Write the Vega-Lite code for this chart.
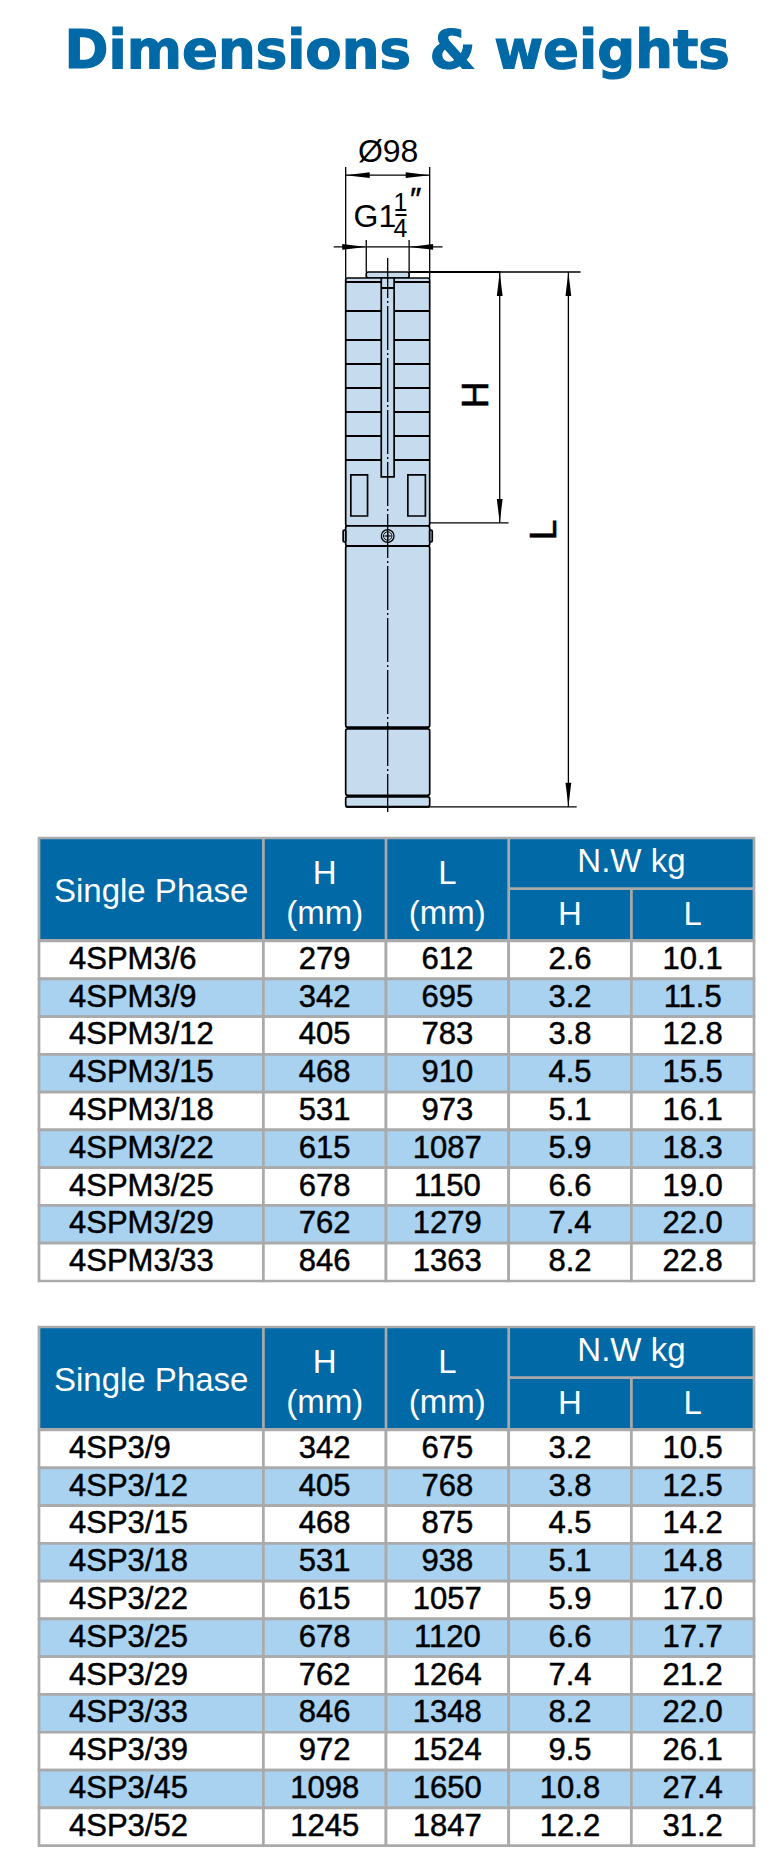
{
  "$schema": "https://vega.github.io/schema/vega-lite/v6.json",
  "background": "white",
  "padding": {"left": 37, "top": 26, "right": 0, "bottom": 0},
  "config": {
    "view": {"stroke": null},
    "font": "Liberation Sans"
  },
  "title": {
    "text": "Dimensions & weights",
    "font": "DejaVu Sans",
    "fontWeight": "bold",
    "fontSize": 53,
    "color": "#0069a6",
    "anchor": "middle",
    "dx": 0,
    "offset": 21,
    "encode": {"title": {"update": {"stroke": {"value": "#0069a6"}, "strokeWidth": {"value": 1.2}}}}
  },
  "datasets": {
    "parts": [
      {"part": "outlet", "x": -25, "x2": 25, "y": 0, "y2": 7},
      {"part": "stages", "x": -49, "x2": 49, "y": 7, "y2": 296.3},
      {"part": "band", "x": -49, "x2": 49, "y": 296.3, "y2": 319.7},
      {"part": "lug", "x": -52, "x2": -49, "y": 301, "y2": 315},
      {"part": "lug", "x": 49, "x2": 52, "y": 301, "y2": 315},
      {"part": "motor", "x": -49, "x2": 49, "y": 319.7, "y2": 531},
      {"part": "motor", "x": -49, "x2": 49, "y": 533, "y2": 610.6},
      {"part": "motor", "x": -49, "x2": 49, "y": 612.4, "y2": 624}
    ],
    "squareParts": [
      {"part": "slot", "x": -7.5, "x2": 7.5, "y": 7, "y2": 239},
      {"part": "window", "x": -43, "x2": -23.5, "y": 236.8, "y2": 284.7},
      {"part": "window", "x": 23.5, "x2": 44, "y": 236.8, "y2": 284.7}
    ],
    "heavyLines": [
      {"x": -49, "x2": -7.5, "y": 11.7, "y2": 11.7},
      {"x": 7.5, "x2": 49, "y": 11.7, "y2": 11.7},
      {"x": -7.5, "x2": 7.5, "y": 18.7, "y2": 18.7},
      {"x": -49, "x2": -7.5, "y": 45.5, "y2": 45.5},
      {"x": 7.5, "x2": 49, "y": 45.5, "y2": 45.5},
      {"x": -49, "x2": -7.5, "y": 79.3, "y2": 79.3},
      {"x": 7.5, "x2": 49, "y": 79.3, "y2": 79.3},
      {"x": -49, "x2": -7.5, "y": 107.3, "y2": 107.3},
      {"x": 7.5, "x2": 49, "y": 107.3, "y2": 107.3},
      {"x": -49, "x2": -7.5, "y": 135.3, "y2": 135.3},
      {"x": 7.5, "x2": 49, "y": 135.3, "y2": 135.3},
      {"x": -49, "x2": -7.5, "y": 163.3, "y2": 163.3},
      {"x": 7.5, "x2": 49, "y": 163.3, "y2": 163.3},
      {"x": -49, "x2": -7.5, "y": 191.3, "y2": 191.3},
      {"x": 7.5, "x2": 49, "y": 191.3, "y2": 191.3},
      {"x": -49, "x2": -7.5, "y": 219.3, "y2": 219.3},
      {"x": 7.5, "x2": 49, "y": 219.3, "y2": 219.3},
      {"x": -49, "x2": 49, "y": 319.7, "y2": 319.7},
      {"x": -49, "x2": 49, "y": 624, "y2": 624},
      {"x": 25, "x2": 132, "y": 0, "y2": 0},
      {"x": 9, "x2": 22, "y": -66.5, "y2": -66.5}
    ],
    "thinLines": [
      {"x": -49, "x2": -49, "y": -122.5, "y2": 7},
      {"x": 49, "x2": 49, "y": -122.5, "y2": 7},
      {"x": -25, "x2": -25, "y": -37.3, "y2": 0},
      {"x": 25, "x2": 25, "y": -37.3, "y2": 0},
      {"x": -49, "x2": 49, "y": -113, "y2": -113},
      {"x": -63, "x2": 64, "y": -29.2, "y2": -29.2},
      {"x": 132, "x2": 225, "y": 0, "y2": 0},
      {"x": 49, "x2": 141, "y": 292.8, "y2": 292.8},
      {"x": 49, "x2": 220.5, "y": 624, "y2": 624},
      {"x": 130.7, "x2": 130.7, "y": 0, "y2": 292.8},
      {"x": 210.8, "x2": 210.8, "y": 0, "y2": 624},
      {"x": -3.5, "x2": 3.5, "y": 308, "y2": 308},
      {"x": 0, "x2": 0, "y": 304.5, "y2": 311.5}
    ],
    "arrows": [
      {"x": -49, "y": -113, "angle": 270},
      {"x": 49, "y": -113, "angle": 90},
      {"x": -25, "y": -29.2, "angle": 90},
      {"x": 25, "y": -29.2, "angle": 270},
      {"x": 130.7, "y": 0, "angle": 0},
      {"x": 130.7, "y": 292.8, "angle": 180},
      {"x": 210.8, "y": 0, "angle": 0},
      {"x": 210.8, "y": 624, "angle": 180}
    ],
    "labels": [
      {"label": "Ø98", "x": 0.5, "y": -140},
      {"label": "G1", "x": -15, "y": -64}
    ],
    "fractionLabels": [
      {"label": "1", "x": 15, "y": -81},
      {"label": "4", "x": 15, "y": -50}
    ],
    "dimensionLabels": [
      {"label": "H", "x": 104, "y": 143.5},
      {"label": "L", "x": 184, "y": 301}
    ],
    "columns": [
      {"col": "model", "left": 0, "right": 224.4, "center": 112.2},
      {"col": "H", "left": 224.4, "right": 347, "center": 285.7},
      {"col": "L", "left": 347, "right": 469.7, "center": 408.3},
      {"col": "nwH", "left": 469.7, "right": 592.4, "center": 531},
      {"col": "nwL", "left": 592.4, "right": 715, "center": 653.7}
    ],
    "headerLines": [
      {"x": 224.4, "x2": 224.4, "y": 0, "y2": 102.3},
      {"x": 347, "x2": 347, "y": 0, "y2": 102.3},
      {"x": 469.7, "x2": 469.7, "y": 0, "y2": 102.3},
      {"x": 592.4, "x2": 592.4, "y": 50.6, "y2": 102.3},
      {"x": 469.7, "x2": 715, "y": 50.6, "y2": 50.6}
    ],
    "headerCells": [
      {"label": "Single Phase", "x": 112.2, "y": 53.5},
      {"label": "H", "x": 285.7, "y": 35.6},
      {"label": "(mm)", "x": 285.7, "y": 75.6},
      {"label": "L", "x": 408.3, "y": 35.6},
      {"label": "(mm)", "x": 408.3, "y": 75.6},
      {"label": "N.W kg", "x": 592.4, "y": 24},
      {"label": "H", "x": 531, "y": 77},
      {"label": "L", "x": 653.7, "y": 77}
    ],
    "table1": [
      {"model": "4SPM3/6", "H": "279", "L": "612", "nwH": "2.6", "nwL": "10.1"},
      {"model": "4SPM3/9", "H": "342", "L": "695", "nwH": "3.2", "nwL": "11.5"},
      {"model": "4SPM3/12", "H": "405", "L": "783", "nwH": "3.8", "nwL": "12.8"},
      {"model": "4SPM3/15", "H": "468", "L": "910", "nwH": "4.5", "nwL": "15.5"},
      {"model": "4SPM3/18", "H": "531", "L": "973", "nwH": "5.1", "nwL": "16.1"},
      {"model": "4SPM3/22", "H": "615", "L": "1087", "nwH": "5.9", "nwL": "18.3"},
      {"model": "4SPM3/25", "H": "678", "L": "1150", "nwH": "6.6", "nwL": "19.0"},
      {"model": "4SPM3/29", "H": "762", "L": "1279", "nwH": "7.4", "nwL": "22.0"},
      {"model": "4SPM3/33", "H": "846", "L": "1363", "nwH": "8.2", "nwL": "22.8"}
    ],
    "table2": [
      {"model": "4SP3/9", "H": "342", "L": "675", "nwH": "3.2", "nwL": "10.5"},
      {"model": "4SP3/12", "H": "405", "L": "768", "nwH": "3.8", "nwL": "12.5"},
      {"model": "4SP3/15", "H": "468", "L": "875", "nwH": "4.5", "nwL": "14.2"},
      {"model": "4SP3/18", "H": "531", "L": "938", "nwH": "5.1", "nwL": "14.8"},
      {"model": "4SP3/22", "H": "615", "L": "1057", "nwH": "5.9", "nwL": "17.0"},
      {"model": "4SP3/25", "H": "678", "L": "1120", "nwH": "6.6", "nwL": "17.7"},
      {"model": "4SP3/29", "H": "762", "L": "1264", "nwH": "7.4", "nwL": "21.2"},
      {"model": "4SP3/33", "H": "846", "L": "1348", "nwH": "8.2", "nwL": "22.0"},
      {"model": "4SP3/39", "H": "972", "L": "1524", "nwH": "9.5", "nwL": "26.1"},
      {"model": "4SP3/45", "H": "1098", "L": "1650", "nwH": "10.8", "nwL": "27.4"},
      {"model": "4SP3/52", "H": "1245", "L": "1847", "nwH": "12.2", "nwL": "31.2"}
    ]
  },
  "bounds": "flush",
  "spacing": 0,
  "resolve": {"scale": {"fill": "independent"}},
  "vconcat": [
    {
      "width": 715,
      "height": 737.7,
      "encoding": {
        "x": {"field": "x", "type": "quantitative", "axis": null, "scale": {"domain": [-406.8, 427.35]}},
        "y": {"field": "y", "type": "quantitative", "axis": null, "scale": {"domain": [-200.67, 660], "reverse": true}}
      },
      "layer": [
        {
          "data": {"name": "parts"},
          "mark": {"type": "rect", "fill": "#c6dcee", "stroke": "#000", "strokeWidth": 1.7, "cornerRadius": 2},
          "encoding": {"x2": {"field": "x2"}, "y2": {"field": "y2"}}
        },
        {
          "data": {"name": "squareParts"},
          "mark": {"type": "rect", "fill": "#c6dcee", "stroke": "#000", "strokeWidth": 1.7},
          "encoding": {"x2": {"field": "x2"}, "y2": {"field": "y2"}}
        },
        {
          "data": {"name": "heavyLines"},
          "mark": {"type": "rule", "color": "#000", "strokeWidth": 2},
          "encoding": {"x2": {"field": "x2"}, "y2": {"field": "y2"}}
        },
        {
          "data": {"name": "thinLines"},
          "mark": {"type": "rule", "color": "#000", "strokeWidth": 1.3},
          "encoding": {"x2": {"field": "x2"}, "y2": {"field": "y2"}}
        },
        {
          "data": {"values": [{"x": 0, "x2": 0, "y": -16.3, "y2": 630}]},
          "mark": {"type": "rule", "color": "#000", "strokeWidth": 1.3, "strokeDash": [44, 3, 2, 3], "strokeDashOffset": 4},
          "encoding": {"x2": {"field": "x2"}, "y2": {"field": "y2"}}
        },
        {
          "data": {"values": [{"x": 0, "y": 308}]},
          "mark": {"type": "point", "shape": "circle", "size": 160, "stroke": "#000", "strokeWidth": 1.3, "opacity": 1, "filled": false}
        },
        {
          "data": {"values": [{"x": 0, "y": 308}]},
          "mark": {"type": "point", "shape": "circle", "size": 70, "stroke": "#000", "strokeWidth": 1, "opacity": 1}
        },
        {
          "data": {"name": "arrows"},
          "mark": {"type": "point", "shape": "M0,0L-0.24,2L0.24,2Z", "size": 576, "filled": true, "color": "#000", "opacity": 1},
          "encoding": {"angle": {"field": "angle", "type": "quantitative", "scale": null}}
        },
        {
          "data": {"name": "labels"},
          "mark": {"type": "text", "fontSize": 32, "align": "center", "baseline": "middle", "color": "#000"},
          "encoding": {"text": {"field": "label"}}
        },
        {
          "data": {"name": "fractionLabels"},
          "mark": {"type": "text", "fontSize": 25, "align": "center", "baseline": "middle", "color": "#000"},
          "encoding": {"text": {"field": "label"}}
        },
        {
          "data": {"values": [{"label": "″", "x": 31, "y": -84}]},
          "mark": {"type": "text", "fontSize": 32, "fontStyle": "italic", "align": "center", "baseline": "middle", "color": "#000", "stroke": "#000", "strokeWidth": 0.5},
          "encoding": {"text": {"field": "label"}}
        },
        {
          "data": {"name": "dimensionLabels"},
          "mark": {"type": "text", "fontSize": 37, "angle": 270, "align": "center", "baseline": "middle", "color": "#000", "stroke": "#000", "strokeWidth": 0.6},
          "encoding": {"text": {"field": "label"}}
        }
      ]
    },
    {
      "width": 715,
      "height": 102.3,
      "view": {"fill": "#0069a6", "stroke": "#aaaaaa", "strokeWidth": 2.7},
      "encoding": {
        "x": {"field": "x", "type": "quantitative", "axis": null, "scale": {"domain": [0, 715]}},
        "y": {"field": "y", "type": "quantitative", "axis": null, "scale": {"domain": [0, 102.3], "reverse": true}}
      },
      "layer": [
        {
          "data": {"name": "headerLines"},
          "mark": {"type": "rule", "color": "#aaaaaa", "strokeWidth": 2.7},
          "encoding": {"x2": {"field": "x2"}, "y2": {"field": "y2"}}
        },
        {
          "data": {"name": "headerCells"},
          "mark": {"type": "text", "fontSize": 33, "color": "#ffffff", "align": "center", "baseline": "middle"},
          "encoding": {"text": {"field": "label"}}
        }
      ]
    },
    {
      "width": 715,
      "height": 385.7,
      "encoding": {
        "y": {"field": "model", "type": "nominal", "sort": null, "axis": null, "scale": {"range": [0, 340], "paddingInner": 0, "paddingOuter": 0}}
      },
      "layer": [
        {
          "data": {"name": "table1"},
          "transform": [
            {"fold": ["model", "H", "L", "nwH", "nwL"]},
            {"lookup": "key", "from": {"data": {"name": "columns"}, "key": "col", "fields": ["left", "right"]}}
          ],
          "mark": {"type": "rect", "stroke": "#aaaaaa", "strokeWidth": 2.7},
          "encoding": {
            "x": {"field": "left", "type": "quantitative", "axis": null, "scale": {"domain": [0, 715]}},
            "x2": {"field": "right"},
            "fill": {"field": "model", "type": "nominal", "sort": null, "legend": null, "scale": {"range": ["#ffffff", "#a8d2f0"]}}
          }
        },
        {
          "data": {"name": "table1"},
          "mark": {"type": "text", "fontSize": 31, "align": "left", "baseline": "middle", "color": "#000", "stroke": "#000", "strokeWidth": 0.5},
          "encoding": {
            "x": {"datum": 30, "type": "quantitative", "axis": null, "scale": {"domain": [0, 715]}},
            "text": {"field": "model"}
          }
        },
        {
          "data": {"name": "table1"},
          "transform": [
            {"fold": ["H", "L", "nwH", "nwL"]},
            {"lookup": "key", "from": {"data": {"name": "columns"}, "key": "col", "fields": ["center"]}}
          ],
          "mark": {"type": "text", "fontSize": 31, "align": "center", "baseline": "middle", "color": "#000", "stroke": "#000", "strokeWidth": 0.5},
          "encoding": {
            "x": {"field": "center", "type": "quantitative", "axis": null, "scale": {"domain": [0, 715]}},
            "text": {"field": "value"}
          }
        }
      ]
    },
    {
      "width": 715,
      "height": 102.3,
      "view": {"fill": "#0069a6", "stroke": "#aaaaaa", "strokeWidth": 2.7},
      "encoding": {
        "x": {"field": "x", "type": "quantitative", "axis": null, "scale": {"domain": [0, 715]}},
        "y": {"field": "y", "type": "quantitative", "axis": null, "scale": {"domain": [0, 102.3], "reverse": true}}
      },
      "layer": [
        {
          "data": {"name": "headerLines"},
          "mark": {"type": "rule", "color": "#aaaaaa", "strokeWidth": 2.7},
          "encoding": {"x2": {"field": "x2"}, "y2": {"field": "y2"}}
        },
        {
          "data": {"name": "headerCells"},
          "mark": {"type": "text", "fontSize": 33, "color": "#ffffff", "align": "center", "baseline": "middle"},
          "encoding": {"text": {"field": "label"}}
        }
      ]
    },
    {
      "width": 715,
      "height": 415.6,
      "encoding": {
        "y": {"field": "model", "type": "nominal", "sort": null, "axis": null, "scale": {"paddingInner": 0, "paddingOuter": 0}}
      },
      "layer": [
        {
          "data": {"name": "table2"},
          "transform": [
            {"fold": ["model", "H", "L", "nwH", "nwL"]},
            {"lookup": "key", "from": {"data": {"name": "columns"}, "key": "col", "fields": ["left", "right"]}}
          ],
          "mark": {"type": "rect", "stroke": "#aaaaaa", "strokeWidth": 2.7},
          "encoding": {
            "x": {"field": "left", "type": "quantitative", "axis": null, "scale": {"domain": [0, 715]}},
            "x2": {"field": "right"},
            "fill": {"field": "model", "type": "nominal", "sort": null, "legend": null, "scale": {"range": ["#ffffff", "#a8d2f0"]}}
          }
        },
        {
          "data": {"name": "table2"},
          "mark": {"type": "text", "fontSize": 31, "align": "left", "baseline": "middle", "color": "#000", "stroke": "#000", "strokeWidth": 0.5},
          "encoding": {
            "x": {"datum": 30, "type": "quantitative", "axis": null, "scale": {"domain": [0, 715]}},
            "text": {"field": "model"}
          }
        },
        {
          "data": {"name": "table2"},
          "transform": [
            {"fold": ["H", "L", "nwH", "nwL"]},
            {"lookup": "key", "from": {"data": {"name": "columns"}, "key": "col", "fields": ["center"]}}
          ],
          "mark": {"type": "text", "fontSize": 31, "align": "center", "baseline": "middle", "color": "#000", "stroke": "#000", "strokeWidth": 0.5},
          "encoding": {
            "x": {"field": "center", "type": "quantitative", "axis": null, "scale": {"domain": [0, 715]}},
            "text": {"field": "value"}
          }
        }
      ]
    }
  ]
}
